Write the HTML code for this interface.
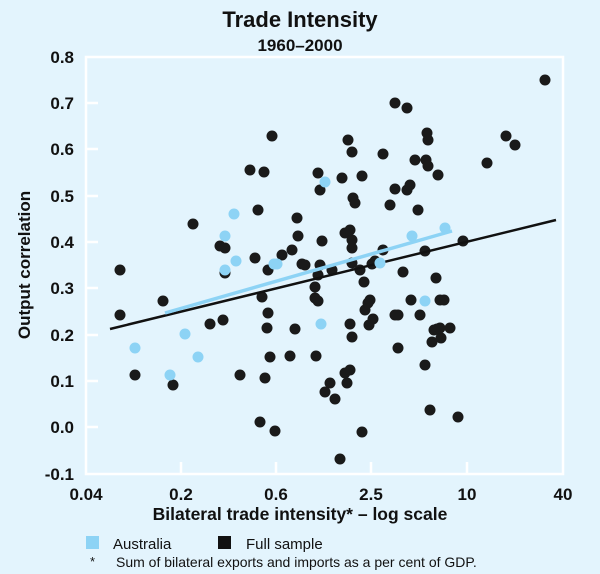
<!DOCTYPE html>
<html><head><meta charset="utf-8"><style>
body{margin:0;background:#e3f4fd;}
svg{display:block;font-family:"Liberation Sans",sans-serif;}
</style></head><body>
<svg width="600" height="574" viewBox="0 0 600 574">
<rect width="600" height="574" fill="#e3f4fd"/>
<text x="300" y="27" text-anchor="middle" font-size="22" font-weight="bold" fill="#111">Trade Intensity</text>
<text x="300" y="51" text-anchor="middle" font-size="17" font-weight="bold" fill="#111">1960–2000</text>
<g stroke="#fff" stroke-width="2.5" fill="none">
<rect x="86" y="57" width="477" height="417"/>
<path d="M86 103h12M86 149h12M86 196h12M86 242h12M86 288h12M86 335h12M86 381h12M86 427h12"/>
<path d="M181 474v-12M276 474v-12M371 474v-12M467 474v-12"/>
</g>
<g font-size="17" font-weight="bold" fill="#111" text-anchor="end">
<text x="74" y="63">0.8</text><text x="74" y="109">0.7</text><text x="74" y="155">0.6</text><text x="74" y="202">0.5</text><text x="74" y="248">0.4</text><text x="74" y="294">0.3</text><text x="74" y="341">0.2</text><text x="74" y="387">0.1</text><text x="74" y="433">0.0</text><text x="74" y="480">-0.1</text>
</g>
<g font-size="17" font-weight="bold" fill="#111" text-anchor="middle">
<text x="86" y="500">0.04</text><text x="181" y="500">0.2</text><text x="276" y="500">0.6</text><text x="371" y="500">2.5</text><text x="467" y="500">10</text><text x="563" y="500">40</text>
</g>
<text x="300" y="520" text-anchor="middle" font-size="17.5" font-weight="bold" fill="#111">Bilateral trade intensity* – log scale</text>
<text transform="translate(30,265) rotate(-90)" text-anchor="middle" font-size="17" font-weight="bold" fill="#111">Output correlation</text>
<rect x="86" y="536" width="13" height="13" fill="#8dd3f5"/>
<text x="113" y="549" font-size="15" fill="#111">Australia</text>
<rect x="218" y="536" width="13" height="13" fill="#111"/>
<text x="246" y="549" font-size="15" fill="#111">Full sample</text>
<text x="90" y="566" font-size="13" fill="#111">*</text>
<text x="116" y="567" font-size="14" fill="#111">Sum of bilateral exports and imports as a per cent of GDP.</text>
<g fill="#1a1a1a">
<circle cx="120" cy="270" r="5.5"/><circle cx="120" cy="315" r="5.5"/><circle cx="135" cy="375" r="5.5"/><circle cx="163" cy="301" r="5.5"/><circle cx="173" cy="385" r="5.5"/><circle cx="193" cy="224" r="5.5"/><circle cx="210" cy="324" r="5.5"/><circle cx="220" cy="246" r="5.5"/><circle cx="223" cy="320" r="5.5"/><circle cx="225" cy="273" r="5.5"/><circle cx="225" cy="248" r="5.5"/><circle cx="240" cy="375" r="5.5"/><circle cx="250" cy="170" r="5.5"/><circle cx="258" cy="210" r="5.5"/><circle cx="255" cy="258" r="5.5"/><circle cx="262" cy="297" r="5.5"/><circle cx="260" cy="422" r="5.5"/><circle cx="265" cy="378" r="5.5"/><circle cx="268" cy="313" r="5.5"/><circle cx="267" cy="328" r="5.5"/><circle cx="268" cy="270" r="5.5"/><circle cx="270" cy="357" r="5.5"/><circle cx="272" cy="136" r="5.5"/><circle cx="264" cy="172" r="5.5"/><circle cx="275" cy="431" r="5.5"/><circle cx="282" cy="255" r="5.5"/><circle cx="290" cy="356" r="5.5"/><circle cx="292" cy="250" r="5.5"/><circle cx="295" cy="329" r="5.5"/><circle cx="297" cy="218" r="5.5"/><circle cx="302" cy="264" r="5.5"/><circle cx="298" cy="236" r="5.5"/><circle cx="305" cy="265" r="5.5"/><circle cx="315" cy="298" r="5.5"/><circle cx="316" cy="356" r="5.5"/><circle cx="318" cy="173" r="5.5"/><circle cx="320" cy="190" r="5.5"/><circle cx="318" cy="275" r="5.5"/><circle cx="315" cy="287" r="5.5"/><circle cx="318" cy="301" r="5.5"/><circle cx="325" cy="392" r="5.5"/><circle cx="322" cy="241" r="5.5"/><circle cx="320" cy="265" r="5.5"/><circle cx="330" cy="383" r="5.5"/><circle cx="332" cy="270" r="5.5"/><circle cx="335" cy="399" r="5.5"/><circle cx="340" cy="459" r="5.5"/><circle cx="345" cy="373" r="5.5"/><circle cx="347" cy="383" r="5.5"/><circle cx="342" cy="178" r="5.5"/><circle cx="345" cy="233" r="5.5"/><circle cx="348" cy="140" r="5.5"/><circle cx="352" cy="152" r="5.5"/><circle cx="352" cy="240" r="5.5"/><circle cx="350" cy="230" r="5.5"/><circle cx="353" cy="198" r="5.5"/><circle cx="350" cy="324" r="5.5"/><circle cx="352" cy="337" r="5.5"/><circle cx="350" cy="370" r="5.5"/><circle cx="352" cy="263" r="5.5"/><circle cx="352" cy="248" r="5.5"/><circle cx="355" cy="203" r="5.5"/><circle cx="360" cy="270" r="5.5"/><circle cx="362" cy="176" r="5.5"/><circle cx="362" cy="432" r="5.5"/><circle cx="364" cy="282" r="5.5"/><circle cx="365" cy="310" r="5.5"/><circle cx="368" cy="303" r="5.5"/><circle cx="369" cy="325" r="5.5"/><circle cx="370" cy="300" r="5.5"/><circle cx="372" cy="264" r="5.5"/><circle cx="373" cy="319" r="5.5"/><circle cx="375" cy="261" r="5.5"/><circle cx="383" cy="250" r="5.5"/><circle cx="383" cy="154" r="5.5"/><circle cx="390" cy="205" r="5.5"/><circle cx="395" cy="103" r="5.5"/><circle cx="395" cy="189" r="5.5"/><circle cx="395" cy="315" r="5.5"/><circle cx="398" cy="315" r="5.5"/><circle cx="398" cy="348" r="5.5"/><circle cx="403" cy="272" r="5.5"/><circle cx="407" cy="108" r="5.5"/><circle cx="407" cy="190" r="5.5"/><circle cx="410" cy="185" r="5.5"/><circle cx="411" cy="300" r="5.5"/><circle cx="415" cy="160" r="5.5"/><circle cx="418" cy="210" r="5.5"/><circle cx="420" cy="315" r="5.5"/><circle cx="425" cy="365" r="5.5"/><circle cx="425" cy="251" r="5.5"/><circle cx="427" cy="133" r="5.5"/><circle cx="428" cy="140" r="5.5"/><circle cx="426" cy="160" r="5.5"/><circle cx="428" cy="166" r="5.5"/><circle cx="430" cy="410" r="5.5"/><circle cx="432" cy="342" r="5.5"/><circle cx="434" cy="330" r="5.5"/><circle cx="436" cy="278" r="5.5"/><circle cx="437" cy="329" r="5.5"/><circle cx="438" cy="175" r="5.5"/><circle cx="440" cy="300" r="5.5"/><circle cx="440" cy="328" r="5.5"/><circle cx="441" cy="338" r="5.5"/><circle cx="444" cy="300" r="5.5"/><circle cx="450" cy="328" r="5.5"/><circle cx="458" cy="417" r="5.5"/><circle cx="463" cy="241" r="5.5"/><circle cx="487" cy="163" r="5.5"/><circle cx="506" cy="136" r="5.5"/><circle cx="515" cy="145" r="5.5"/><circle cx="545" cy="80" r="5.5"/>
</g>
<line x1="110" y1="329" x2="556" y2="220" stroke="#111" stroke-width="2.5"/>
<line x1="165" y1="313" x2="452" y2="231" stroke="#8dd3f5" stroke-width="3.5"/>
<g fill="#8dd3f5">
<circle cx="135" cy="348" r="5.5"/><circle cx="170" cy="375" r="5.5"/><circle cx="185" cy="334" r="5.5"/><circle cx="198" cy="357" r="5.5"/><circle cx="225" cy="270" r="5.5"/><circle cx="225" cy="236" r="5.5"/><circle cx="234" cy="214" r="5.5"/><circle cx="236" cy="261" r="5.5"/><circle cx="277" cy="264" r="5.5"/><circle cx="274" cy="264" r="5.5"/><circle cx="325" cy="182" r="5.5"/><circle cx="321" cy="324" r="5.5"/><circle cx="380" cy="263" r="5.5"/><circle cx="412" cy="236" r="5.5"/><circle cx="425" cy="301" r="5.5"/><circle cx="445" cy="228" r="5.5"/>
</g>
</svg>
</body></html>
